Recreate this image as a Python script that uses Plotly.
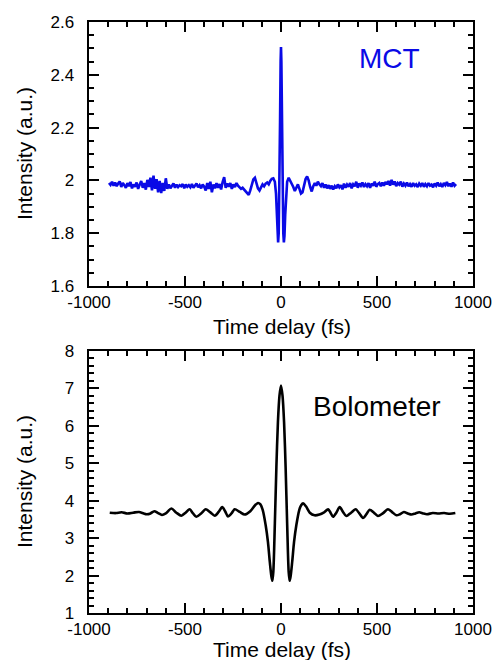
import plotly.graph_objects as go

# ---------------- data ----------------
x_ticks = [-1000, -500, 0, 500, 1000]
x_ticktext = ["-1000", "-500", "0", "500", "1000"]
mct_yticks = [1.6, 1.8, 2.0, 2.2, 2.4, 2.6]
mct_yticktext = ["1.6", "1.8", "2", "2.2", "2.4", "2.6"]
bolo_yticks = [1, 2, 3, 4, 5, 6, 7, 8]
bolo_yticktext = ["1", "2", "3", "4", "5", "6", "7", "8"]

# MCT: measured on an 8 fs grid on both wings, finer near zero delay
mct_left_t = list(range(-896, -47, 8))
mct_left_v = [
    1.990, 1.983, 1.995, 1.980, 1.992, 1.978, 1.988, 1.996, 1.975, 1.990,
    1.982, 1.972, 1.990, 1.978, 1.994, 1.970, 1.985, 1.976, 1.992, 1.968,
    1.984, 1.998, 1.972, 1.990, 1.965, 2.002, 1.975, 2.010, 1.962, 2.018,
    1.968, 2.005, 1.955, 1.998, 1.952, 1.990, 1.960, 2.008, 1.968, 1.985,
    1.970, 1.980, 1.988, 1.972, 1.984, 1.975, 1.982, 1.978, 1.986, 1.970,
    1.984, 1.976, 1.982, 1.974, 1.986, 1.972, 1.980, 1.988, 1.974, 1.982,
    1.970, 1.984, 1.976, 1.962, 1.990, 1.968, 1.995, 1.955, 1.984, 1.970,
    1.990, 1.972, 1.986, 1.966, 1.994, 2.012, 1.972, 1.988, 1.976, 1.990,
    1.968, 1.985, 1.975, 1.990, 1.980, 1.975, 1.968, 1.972, 1.966, 1.958,
    1.950, 1.945, 1.962, 1.985, 2.004, 2.010, 1.992, 1.970, 1.962, 1.975,
    1.985, 1.978, 1.988, 1.992, 1.985, 1.998, 2.006,
]
mct_mid_t = [-40, -32, -26, -22, -18, -15, -12, -8, -5, -2, 0,
             2, 5, 8, 12, 15, 18, 22, 26, 32, 40]
mct_mid_v = [2.008, 1.995, 1.950, 1.870, 1.790, 1.765, 1.800, 1.960, 2.220, 2.450, 2.505,
             2.450, 2.220, 1.960, 1.800, 1.765, 1.790, 1.870, 1.950, 1.995, 2.010]
mct_right_t = list(range(48, 913, 8))
mct_right_v = [
    2.000, 1.990, 1.975, 1.960, 1.972, 1.985, 1.968, 1.950, 1.955, 1.985,
    2.005, 2.015, 2.000, 1.975, 1.958, 1.978, 1.990, 1.980, 1.995, 1.985,
    1.978, 1.990, 1.972, 1.984, 1.970, 1.982, 1.968, 1.980, 1.966, 1.978,
    1.970, 1.985, 1.974, 1.982, 1.966, 1.988, 1.972, 1.984, 1.976, 1.990,
    1.970, 1.985, 1.978, 1.995, 1.972, 1.988, 1.980, 1.992, 1.975, 1.986,
    1.978, 1.990, 1.972, 1.988, 1.980, 1.995, 1.976, 1.986, 1.990, 1.978,
    1.992, 1.980, 1.994, 1.985, 1.998, 1.980, 2.002, 1.984, 1.996, 1.978,
    1.990, 1.984, 1.995, 1.976, 1.988, 1.980, 1.992, 1.978, 1.986, 1.976,
    1.990, 1.980, 1.985, 1.975, 1.988, 1.980, 1.990, 1.976, 1.986, 1.978,
    1.990, 1.980, 1.984, 1.974, 1.988, 1.980, 1.992, 1.978, 1.986, 1.975,
    1.990, 1.982, 1.994, 1.978, 1.988, 1.976, 1.992, 1.980, 1.986,
]

# Bolometer
bolo_t = [
    -892, -860, -830, -800, -770, -740, -715, -700, -680, -660,
    -640, -620, -600, -571, -545, -519, -497, -476, -458, -441,
    -416, -392, -368, -345, -325, -306, -291, -276, -258, -241,
    -215, -189, -160, -135, -120, -108, -95, -80, -68, -58,
    -50, -45, -40, -32, -24, -16, -8, 0, 8, 16,
    24, 32, 40, 45, 50, 58, 68, 80, 95, 105,
    115, 130, 150, 175, 200, 222, 245, 258, 271, 288,
    306, 323, 340, 365, 389, 408, 427, 445, 462, 484,
    505, 530, 557, 580, 601, 620, 640, 660, 680, 700,
    720, 740, 760, 790, 820, 850, 880, 908,
]
bolo_v = [
    3.68, 3.67, 3.69, 3.66, 3.68, 3.70, 3.66, 3.64, 3.66, 3.72,
    3.67, 3.62, 3.66, 3.79, 3.68, 3.60, 3.68, 3.77, 3.66, 3.57,
    3.66, 3.77, 3.69, 3.60, 3.70, 3.83, 3.72, 3.58, 3.66, 3.77,
    3.70, 3.63, 3.72, 3.88, 3.94, 3.91, 3.75, 3.35, 2.90, 2.35,
    1.98, 1.86, 2.10, 3.40, 4.90, 6.10, 6.80, 7.08, 6.80, 6.10,
    4.90, 3.40, 2.10, 1.86, 1.98, 2.35, 2.90, 3.35, 3.75, 3.88,
    3.93, 3.85, 3.68, 3.61, 3.63, 3.68, 3.77, 3.68, 3.57, 3.68,
    3.83, 3.70, 3.59, 3.68, 3.77, 3.66, 3.54, 3.64, 3.76, 3.68,
    3.59, 3.66, 3.77, 3.69, 3.61, 3.64, 3.70, 3.66, 3.63, 3.66,
    3.69, 3.66, 3.64, 3.67, 3.66, 3.67, 3.65, 3.67,
]

mct_t = mct_left_t + mct_mid_t + mct_right_t
mct_v = mct_left_v + mct_mid_v + mct_right_v

# ---------------- figure ----------------
W, H = 499, 660
FONT = "Liberation Sans, Arial, Helvetica, sans-serif"
PAD = "\u00a0\u00a0"


def fx(p):
    return p / W


def fy(p):
    return 1 - p / H


fig = go.Figure()
fig.add_trace(go.Scatter(x=mct_t, y=mct_v, mode="lines",
                         line=dict(color="rgb(10,10,230)", width=2.6),
                         xaxis="x", yaxis="y"))
fig.add_trace(go.Scatter(x=bolo_t, y=bolo_v, mode="lines",
                         line=dict(color="black", width=2.6, shape="spline", smoothing=0.8),
                         xaxis="x2", yaxis="y2"))

xdom = [fx(89), fx(473)]

fig.update_layout(
    width=W, height=H, showlegend=False,
    font=dict(family=FONT, size=17, color="black"),
    margin=dict(l=0, r=0, t=0, b=0, autoexpand=False),
    paper_bgcolor="white", plot_bgcolor="white",
    xaxis=dict(domain=xdom, anchor="y", range=[-1000, 1000], showline=True, linewidth=2,
               linecolor="black", ticks="inside", ticklen=10, tickwidth=2, tickcolor="black",
               mirror="allticks", automargin=False, showgrid=False, zeroline=False,
               tickmode="array", tickvals=x_ticks, ticktext=x_ticktext,
               minor=dict(ticks="inside", ticklen=5, dtick=100)),
    yaxis=dict(domain=[fy(286), fy(22)], anchor="x", range=[1.6, 2.6], showline=True,
               linewidth=2, linecolor="black", ticks="inside", ticklen=10, tickwidth=2,
               tickcolor="black", mirror="allticks", automargin=False, showgrid=False,
               zeroline=False, tickmode="array", tickvals=mct_yticks,
               ticktext=[t + PAD for t in mct_yticktext],
               minor=dict(ticks="inside", ticklen=5, dtick=0.05, tickmode="linear", tick0=1.6)),
    xaxis2=dict(domain=xdom, anchor="y2", range=[-1000, 1000], showline=True, linewidth=2,
                linecolor="black", ticks="inside", ticklen=10, tickwidth=2, tickcolor="black",
                mirror="allticks", automargin=False, showgrid=False, zeroline=False,
                tickmode="array", tickvals=x_ticks, ticktext=x_ticktext,
                minor=dict(ticks="inside", ticklen=5, dtick=100)),
    yaxis2=dict(domain=[fy(613), fy(351)], anchor="x2", range=[1, 8], showline=True,
                linewidth=2, linecolor="black", ticks="inside", ticklen=10, tickwidth=2,
                tickcolor="black", mirror="allticks", automargin=False, showgrid=False,
                zeroline=False, tickmode="array", tickvals=bolo_yticks,
                ticktext=[t + PAD for t in bolo_yticktext],
                minor=dict(ticks="inside", ticklen=5, dtick=0.2, tickmode="linear", tick0=1)),
)

ann = []
title_font = dict(family=FONT, size=21, color="black")
for yc in (326, 649):
    ann.append(dict(text="Time delay (fs)", x=fx(282), y=fy(yc), xref="paper", yref="paper",
                    xanchor="center", yanchor="middle", showarrow=False, font=title_font))
for yc in (154, 482):
    ann.append(dict(text="Intensity (a.u.)", x=fx(24), y=fy(yc), xref="paper", yref="paper",
                    xanchor="center", yanchor="middle", textangle=-90, showarrow=False,
                    font=title_font))
ann.append(dict(text="MCT", x=fx(389), y=fy(58), xref="paper", yref="paper",
                xanchor="center", yanchor="middle", showarrow=False,
                font=dict(family=FONT, size=28, color="rgb(10,10,230)")))
ann.append(dict(text="Bolometer", x=fx(377), y=fy(406), xref="paper", yref="paper",
                xanchor="center", yanchor="middle", showarrow=False,
                font=dict(family=FONT, size=28, color="black")))
fig.update_layout(annotations=ann)

fig.write_html("out.html", config={"displayModeBar": False},
               post_script="document.body.style.margin='0';")
